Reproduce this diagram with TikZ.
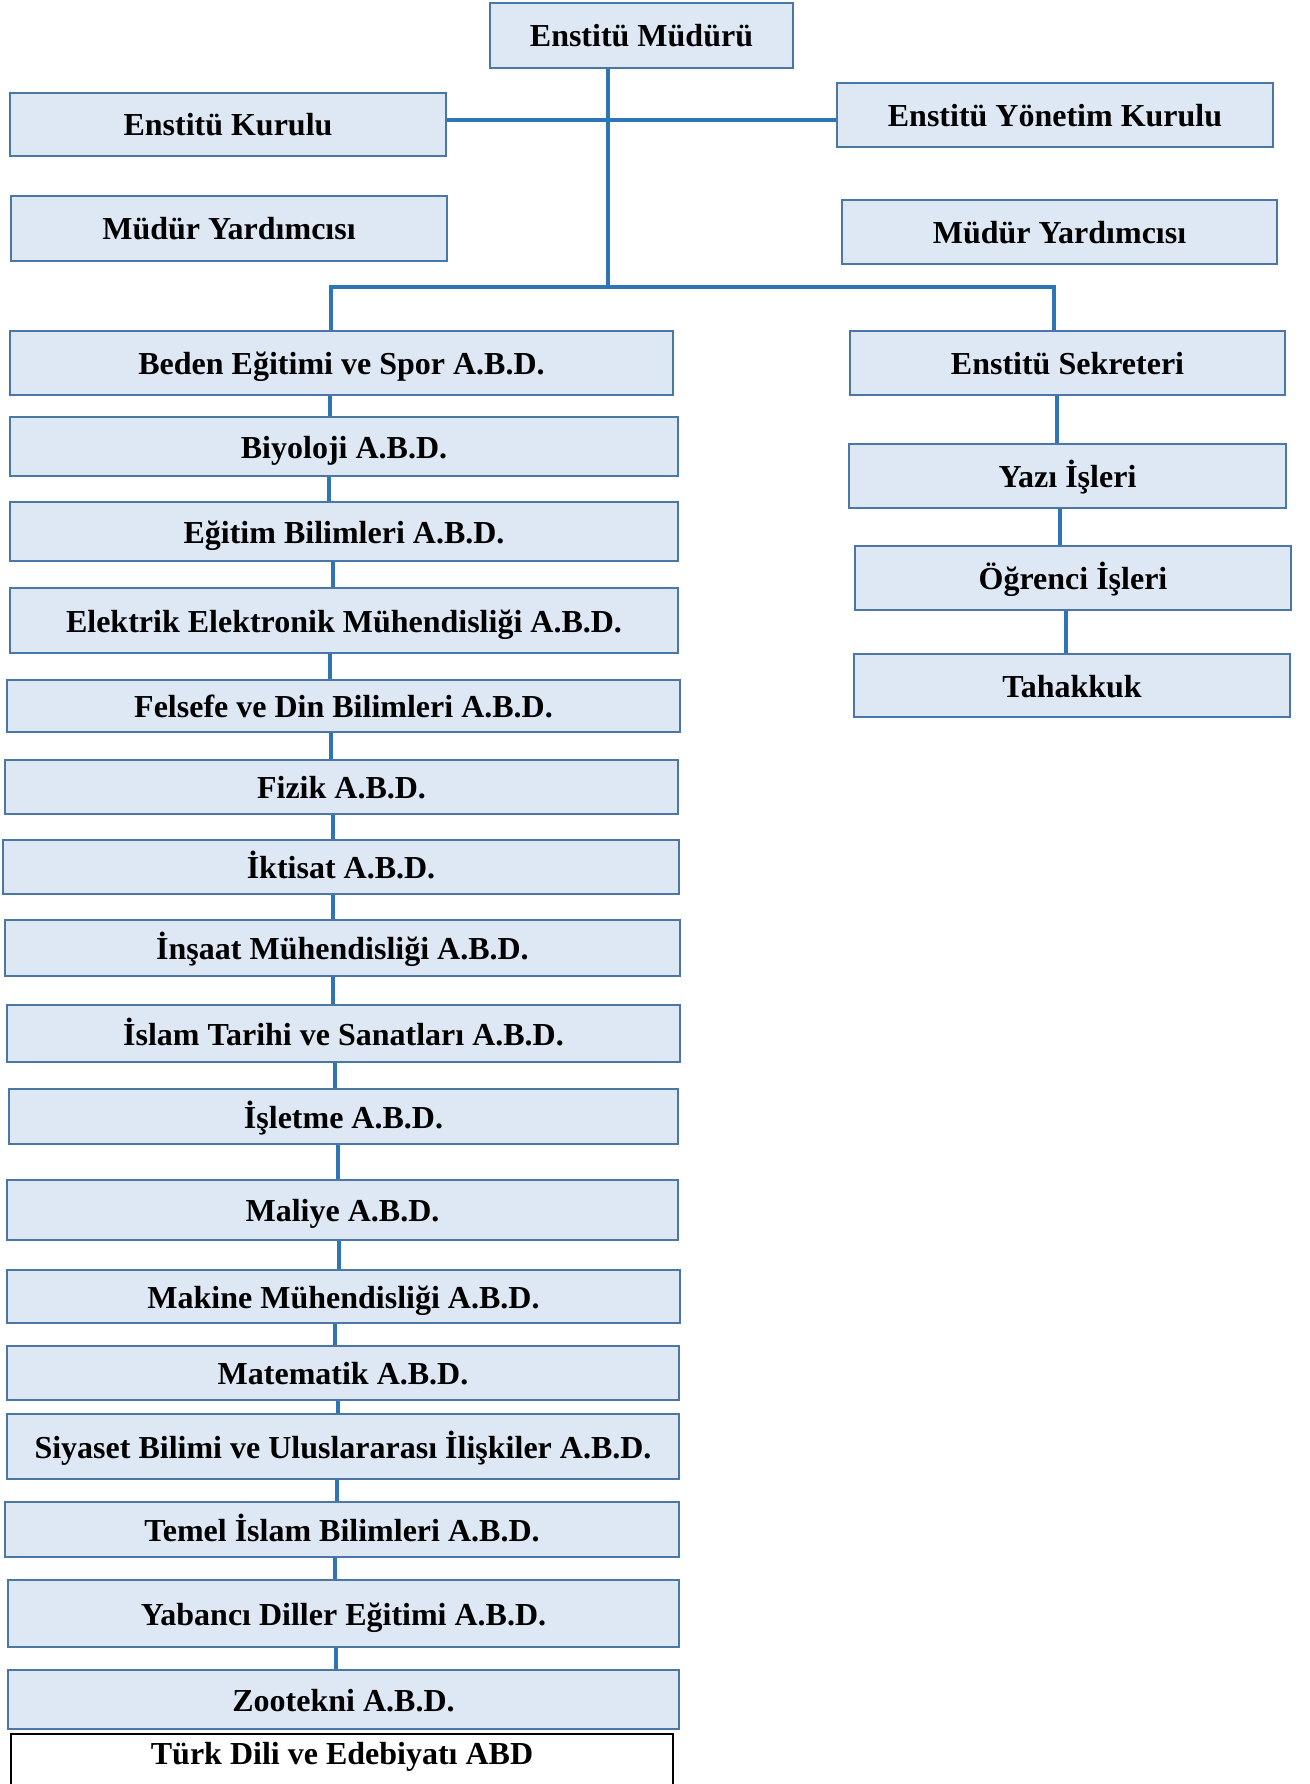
\documentclass[tikz,border=0pt]{standalone}
\usepackage{fontspec}
\setmainfont{Liberation Serif}
\usepackage{tikz}
\usetikzlibrary{positioning}
\definecolor{boxfill}{HTML}{DEE8F4}
\definecolor{boxline}{HTML}{4A76A8}
\definecolor{linkblue}{HTML}{2E75B6}
\tikzset{
  box/.style={rectangle,draw=boxline,fill=boxfill,line width=2.2pt,inner sep=0pt,
    text height=30pt,text depth=7pt,
    font=\bfseries\fontsize{32}{36}\selectfont},
  lastbox/.style={rectangle,draw=black,fill=white,line width=2pt,inner xsep=0pt,inner ysep=0pt,
    font=\bfseries\fontsize{32}{36}\selectfont},
  link/.style={draw=linkblue,line width=4.5pt}
}

\begin{document}
\begin{tikzpicture}[x=1pt,y=-1pt]
      \useasboundingbox (0,0) rectangle (1309,1784);
      \clip (0,0) rectangle (1309,1784);
      % top of the chart
      \node[box,minimum width=303,minimum height=65] (mud) at (641.5,35.5) {Enstitü Müdürü};
      \node[box,minimum width=436,minimum height=63] (kurul) at (228,124.5) {Enstitü Kurulu};
      \node[box,minimum width=436,minimum height=64] (yonetim) at (1055,115) {Enstitü Yönetim Kurulu};
      \node[box,minimum width=436,minimum height=65] (yardl) at (229,228.5) {Müdür Yardımcısı};
      \node[box,minimum width=435,minimum height=64] (yardr) at (1059.5,232) {Müdür Yardımcısı};
      % right column
      \node[box,minimum width=435,minimum height=64] (sek) at (1067.5,363) {Enstitü Sekreteri};
      \node[box,minimum width=437,minimum height=64] (yazi) at (1067.5,476) {Yazı İşleri};
      \node[box,minimum width=436,minimum height=64] (ogr) at (1073,578) {Öğrenci İşleri};
      \node[box,minimum width=436,minimum height=63] (tah) at (1072,685.5) {Tahakkuk};
      % left column
      \foreach \n/\l/\r/\t/\b/\txt in {
          1/10/673/331/395/Beden Eğitimi ve Spor A.B.D.,
          2/10/678/417/476/Biyoloji A.B.D.,
          3/10/678/502/561/Eğitim Bilimleri A.B.D.,
          4/10/678/588/653/Elektrik Elektronik Mühendisliği A.B.D.,
          5/7/680/680/732/Felsefe ve Din Bilimleri A.B.D.,
          6/5/678/760/814/Fizik A.B.D.,
          7/3/679/840/894/İktisat A.B.D.,
          8/5/680/920/976/İnşaat Mühendisliği A.B.D.,
          9/7/680/1005/1062/İslam Tarihi ve Sanatları A.B.D.,
          10/9/678/1089/1144/İşletme A.B.D.,
          11/7/678/1180/1240/Maliye A.B.D.,
          12/7/680/1270/1323/Makine Mühendisliği A.B.D.,
          13/7/679/1346/1400/Matematik A.B.D.,
          14/7/679/1414/1479/Siyaset Bilimi ve Uluslararası İlişkiler A.B.D.,
          15/5/679/1502/1557/Temel İslam Bilimleri A.B.D.,
          16/8/679/1580/1647/Yabancı Diller Eğitimi A.B.D.,
          17/8/679/1670/1729/Zootekni A.B.D.}
        \node[box,minimum width=\r-\l,minimum height=\b-\t] (b\n) at ({(\l+\r)/2},{(\t+\b)/2}) {\txt};
      \node[lastbox,anchor=north,minimum width=662,text height=30pt,text depth=50pt] (b18) at (342,1733) {Türk Dili ve Edebiyatı ABD};
      % connectors
      \coordinate (split) at (608,287);
      \coordinate (lj) at (331,287);
      \coordinate (rj) at (1054,287);
      \draw[link] (mud.south -| split) -- (split);
      \draw[link] (kurul.east |- 0,120) -- (yonetim.west |- 0,120);
      \draw[link] (b1.north -| lj) -- (lj) -- (rj) -- (sek.north -| rj);
      \foreach \i/\j/\x in {1/2/330,2/3/329,3/4/333,4/5/330,5/6/331,6/7/333,7/8/333,8/9/333,
          9/10/335,10/11/338,11/12/339,12/13/335,13/14/338,14/15/337,15/16/335,16/17/336}
        \draw[link] (b\i.south -| \x,0) -- (b\j.north -| \x,0);
      \draw[link] (sek.south -| 1057,0) -- (yazi.north -| 1057,0);
      \draw[link] (yazi.south -| 1060,0) -- (ogr.north -| 1060,0);
      \draw[link] (ogr.south -| 1066,0) -- (tah.north -| 1066,0);
    \end{tikzpicture}
\end{document}
